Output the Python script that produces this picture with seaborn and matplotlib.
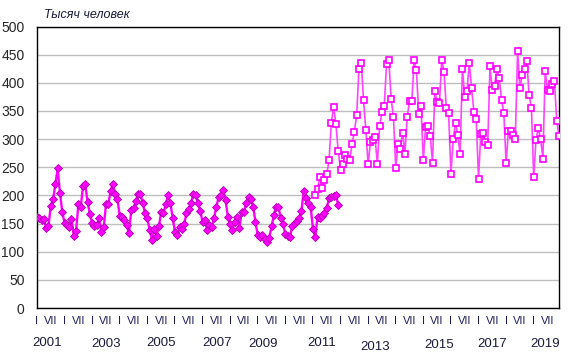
import numpy as np
import pandas as pd
import matplotlib
matplotlib.use("Agg")
import matplotlib.pyplot as plt
import matplotlib.transforms as mtransforms
import seaborn as sns

# monthly data, thousand people
months = pd.date_range("2001-01-01", "2019-12-01", freq="MS")

# old series (filled diamonds), Jan 2001 - Dec 2011
old_values = [
    162, 160, 156, 158, 142, 146, 182, 193, 221, 248, 204, 170,  # 2001
    151, 148, 143, 158, 128, 137, 184, 179, 216, 220, 188, 167,  # 2002
    151, 145, 147, 159, 135, 143, 184, 184, 208, 221, 203, 193,  # 2003
    163, 162, 156, 147, 133, 174, 177, 190, 203, 202, 186, 168,  # 2004
    159, 138, 121, 140, 128, 145, 170, 168, 185, 200, 186, 160,  # 2005
    135, 129, 144, 141, 150, 168, 175, 186, 203, 200, 186, 172,  # 2006
    153, 156, 138, 147, 144, 160, 180, 197, 200, 209, 191, 162,  # 2007
    150, 138, 153, 162, 142, 171, 171, 186, 197, 194, 180, 153,  # 2008
    129, 126, 129, 123, 118, 125, 145, 165, 180, 180, 159, 150,  # 2009
    131, 128, 126, 145, 151, 155, 159, 172, 208, 195, 186, 180,  # 2010
    141, 126, 162, 159, 163, 168, 178, 195, 197, 199, 200, 183,  # 2011
]

# new series (hollow squares), Feb 2011 - Dec 2019
new_start = "2011-02-01"
new_values = [
    200, 212, 232, 214, 228, 238, 262, 329, 357, 326, 278,       # 2011
    246, 255, 271, 264, 262, 291, 313, 342, 424, 436, 369, 316,  # 2012
    255, 295, 298, 303, 256, 323, 348, 358, 433, 440, 372, 340,  # 2013
    249, 292, 283, 311, 274, 340, 367, 367, 441, 422, 345, 358,  # 2014
    262, 321, 324, 305, 258, 385, 366, 364, 440, 420, 355, 346,  # 2015
    238, 300, 329, 307, 273, 425, 374, 385, 436, 390, 348, 335,  # 2016
    230, 309, 310, 295, 289, 429, 387, 395, 425, 409, 369, 347,  # 2017
    257, 314, 314, 307, 301, 457, 391, 414, 424, 438, 379, 356,  # 2018
    232, 299, 319, 301, 265, 421, 387, 385, 398, 404, 333, 306,  # 2019
]

month_labels = ["I", "VII"]
year_labels = ["2001", "2003", "2005", "2007", "2009",
               "2011", "2013", "2015", "2017", "2019"]

# month index on x
idx_new = months.get_loc(pd.Timestamp(new_start))
df_old = pd.DataFrame({"t": np.arange(len(old_values)), "v": old_values})
df_new = pd.DataFrame({"t": np.arange(idx_new, idx_new + len(new_values)), "v": new_values})

sns.set_style("white")
plt.rcParams["font.family"] = ["Liberation Sans", "DejaVu Sans"]

fig = plt.figure(figsize=(5.74, 3.62), dpi=100)
ax = fig.add_axes([37 / 574, 1 - 308 / 362, 522 / 574, 281.5 / 362])

sns.lineplot(data=df_new, x="t", y="v", ax=ax, color="#FF44FF", lw=1.2,
             marker="s", ms=5.0, mfc="white", mec="#FF00FF", mew=1.2, zorder=3)
sns.lineplot(data=df_old, x="t", y="v", ax=ax, color="#FF00FF", lw=1.7,
             marker="D", ms=4.5, mfc="#FF00FF", mec="#B000B0", mew=0.6, zorder=4)

ax.set_xlim(0, len(months) - 1)
ax.set_ylim(0, 500)
ax.set_yticks(np.arange(0, 501, 50))
ax.yaxis.grid(True, color="#BEBEBE", lw=1)
ax.set_axisbelow(True)
ax.set_xlabel("")
ax.set_ylabel("")

ticks = np.arange(0, len(months), 6)
ax.set_xticks(ticks)
ax.set_xticklabels([month_labels[k % 2] for k in range(len(ticks))],
                   fontsize=8, color="#1E1E5A")
ax.tick_params(axis="x", length=0, pad=6)
ax.tick_params(axis="y", length=0, pad=9, labelsize=10)

for s in ax.spines.values():
    s.set_color("black")
    s.set_linewidth(1)

# year captions under the month labels
trans = mtransforms.blended_transform_factory(ax.transData, fig.transFigure)
label_dx = [4.2, 6, 5.9, 6.1, 2.3, 3.8, 3, 6.8, 6, 4.9]
label_y = [343, 344, 343, 343, 344, 343, 346.5, 345.5, 344, 344]
for lab, dx, yy in zip(year_labels, label_dx, label_y):
    x0 = (int(lab) - 2001) * 12 + dx
    ax.text(x0, 1 - yy / 362, lab, transform=trans, ha="center", va="center",
            fontsize=9.5, color="#1A1A3A")

fig.text(44 / 574, 1 - 15 / 362, "Тысяч человек", fontsize=9, style="italic",
         va="center", ha="left", color="#1A1A3A")

fig.savefig("out.png", dpi=100)
